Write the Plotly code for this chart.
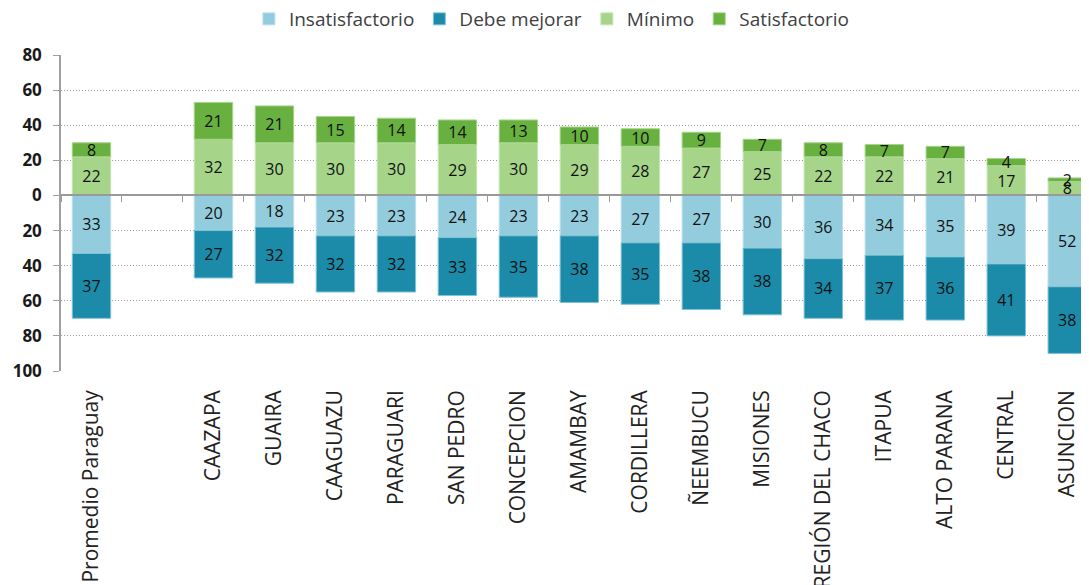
import plotly.graph_objects as go

categories = ["Promedio Paraguay", " ", "CAAZAPA", "GUAIRA", "CAAGUAZU", "PARAGUARI",
              "SAN PEDRO", "CONCEPCION", "AMAMBAY", "CORDILLERA", "ÑEEMBUCU",
              "MISIONES", "REGIÓN DEL CHACO", "ITAPUA", "ALTO PARANA", "CENTRAL", "ASUNCION"]
insatisfactorio = [33, None, 20, 18, 23, 23, 24, 23, 23, 27, 27, 30, 36, 34, 35, 39, 52]
debe_mejorar = [37, None, 27, 32, 32, 32, 33, 35, 38, 35, 38, 38, 34, 37, 36, 41, 38]
minimo = [22, None, 32, 30, 30, 30, 29, 30, 29, 28, 27, 25, 22, 22, 21, 17, 8]
satisfactorio = [8, None, 21, 21, 15, 14, 14, 13, 10, 10, 9, 7, 8, 7, 7, 4, 2]
y_tick_vals = [-100, -80, -60, -40, -20, 0, 20, 40, 60, 80]
y_tick_text = [str(abs(v)) for v in y_tick_vals]

series = [
    ("Insatisfactorio", insatisfactorio, -1, "#93CDDD", "#B9E0EA"),
    ("Debe mejorar", debe_mejorar, -1, "#1B8BA9", "#7FC3D6"),
    ("Mínimo", minimo, 1, "#A6D58A", "#C6E6B3"),
    ("Satisfactorio", satisfactorio, 1, "#68B03F", "#A6D58A"),
]

FONT = "Open Sans"
fig = go.Figure()
for name, vals, sign, color, edge in series:
    fig.add_trace(go.Bar(
        name=name,
        x=categories,
        y=[None if v is None else sign * v for v in vals],
        text=[None if v is None else str(v) for v in vals],
        textposition="inside",
        insidetextanchor="middle",
        textangle=0,
        textfont=dict(family=FONT, size=16, color="#111111"),
        marker=dict(color=color, line=dict(color=edge, width=1)),
        hoverinfo="skip",
    ))

# invisible helper trace for the category-boundary tick axis at y=0
fig.add_trace(go.Scatter(
    x=categories, y=[0] * len(categories), xaxis="x2", mode="markers",
    marker=dict(opacity=0), showlegend=False, hoverinfo="skip",
))

x_range = [-0.5, 16.34]
fig.update_layout(
    width=1089, height=585,
    barmode="relative",
    bargap=0.37,
    plot_bgcolor="white", paper_bgcolor="white",
    margin=dict(l=53, r=9, t=47, b=222, autoexpand=False),
    uniformtext=dict(minsize=16, mode="show"),
    font=dict(family=FONT, color="#222222"),
    legend=dict(
        orientation="h", x=0.478, xanchor="center", y=1 - 11 / 585, yref="container",
        yanchor="middle",
        font=dict(family=FONT, size=19, color="#404040"),
        itemwidth=30, traceorder="normal",
    ),
    xaxis=dict(
        type="category", categoryorder="array", categoryarray=categories,
        range=x_range, showgrid=False, zeroline=False, showline=False,
        ticks="", tickangle=-90, automargin=False, ticklabelstandoff=14,
        tickfont=dict(family=FONT, size=21, color="#222222"),
    ),
    xaxis2=dict(
        type="category", categoryorder="array", categoryarray=categories,
        overlaying="x", anchor="free", position=100 / 180,
        range=x_range, showgrid=False, zeroline=False, automargin=False,
        showline=True, linecolor="#9A9A9A", linewidth=1.5,
        ticks="outside", tickson="boundaries", ticklen=6, tickcolor="#9A9A9A",
        showticklabels=False,
    ),
    yaxis=dict(
        range=[-100, 80], tickvals=y_tick_vals, ticktext=y_tick_text,
        showgrid=True, gridcolor="#9A9A9A", griddash="1px,2px", gridwidth=1,
        zeroline=False, showline=True, linecolor="#A0A0A0", linewidth=1.5,
        ticks="outside", ticklen=6, tickcolor="#A0A0A0", automargin=False,
        ticklabelstandoff=8,
        tickfont=dict(family=FONT, size=17, color="#1a1a1a", weight="bold"),
    ),
)

fig.write_html("out.html")
